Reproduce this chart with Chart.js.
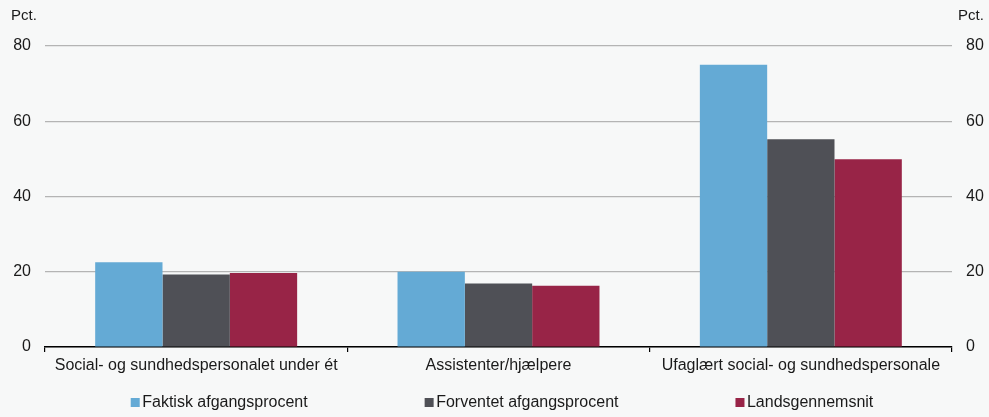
<!DOCTYPE html>
<html>
<head>
<meta charset="utf-8">
<script src="https://cdn.jsdelivr.net/npm/chart.js@4"></script>
<style>
  html, body { margin: 0; padding: 0; background: #f7f8f8; }
  #wrap { width: 989px; height: 417px; position: relative; }
</style>
</head>
<body>
<div id="wrap"><canvas id="chart"></canvas></div>
<script>
// data
const categories = ['Social- og sundhedspersonalet under ét', 'Assistenter/hjælpere', 'Ufaglært social- og sundhedspersonale'];
const faktisk = [22.5, 20.0, 75.0];
const forventet = [19.3, 16.9, 55.2];
const landsgns = [19.7, 16.3, 49.9];
const seriesNames = ['Faktisk afgangsprocent', 'Forventet afgangsprocent', 'Landsgennemsnit'];
const seriesColors = ['#64aad5', '#4f5056', '#982447'];
const yTicks = [0, 20, 40, 60, 80];
const unitLabel = 'Pct.';

const FONT = 'Arial, "Liberation Sans", sans-serif';
const TXT = '#1a1a1a';

// "Pct." over both axes + a hand placed legend (chart.js legend padding is shared with height)
const extras = {
  id: 'extras',
  afterDraw(chart) {
    const c = chart.ctx;
    c.save();
    c.font = '15px ' + FONT;
    c.fillStyle = TXT;
    c.textBaseline = 'middle';
    c.textAlign = 'left';
    c.fillText(unitLabel, 11, 16);
    c.fillText(unitLabel, 958, 16);

    // legend
    c.font = '16px ' + FONT;
    const y = 402.5;
    const gap = 117;
    const box = 9;
    const widths = seriesNames.map(n => box + 2.5 + c.measureText(n).width);
    const total = widths.reduce((a, b) => a + b, 0) + gap * (widths.length - 1);
    let x = 502 - total / 2;
    chart.data.datasets.forEach((ds, i) => {
      c.fillStyle = ds.backgroundColor;
      c.fillRect(x, y - box / 2, box, box);
      c.fillStyle = TXT;
      c.fillText(ds.label, x + box + 2.5, y);
      x += widths[i] + gap;
    });
    c.restore();
  }
};

const yCommon = {
  min: 0, max: 80,
  afterBuildTicks: ax => { ax.ticks = yTicks.map(v => ({ value: v })); },
  ticks: { color: TXT, font: { family: FONT, size: 16 }, padding: 14 },
  border: { display: false }
};

new Chart(document.getElementById('chart'), {
  type: 'bar',
  data: {
    labels: categories,
    datasets: [
      { label: seriesNames[0], data: faktisk, backgroundColor: seriesColors[0] },
      { label: seriesNames[1], data: forventet, backgroundColor: seriesColors[1] },
      { label: seriesNames[2], data: landsgns, backgroundColor: seriesColors[2] }
    ]
  },
  options: {
    responsive: true,
    maintainAspectRatio: false,
    animation: false,
    categoryPercentage: 0.668,
    barPercentage: 1,
    layout: { padding: { top: 46, bottom: 40, left: 0, right: 0 } },
    plugins: { legend: { display: false }, tooltip: { enabled: false } },
    scales: {
      x: {
        afterFit: ax => { ax.height = 30; },
        grid: { offset: true, drawOnChartArea: false, drawTicks: true, tickLength: 5, color: '#000', lineWidth: 1.2 },
        border: { display: true, color: '#000', width: 1.5 },
        ticks: { color: TXT, font: { family: FONT, size: 16 }, padding: 4, maxRotation: 0, autoSkip: false }
      },
      y: Object.assign({}, yCommon, {
        position: 'left',
        afterFit: ax => { ax.width = 45; },
        grid: { color: '#b4b4b4', lineWidth: 1.2, drawTicks: false }
      }),
      y2: Object.assign({}, yCommon, {
        position: 'right',
        afterFit: ax => { ax.width = 37; },
        grid: { display: false, drawTicks: false }
      })
    }
  },
  plugins: [extras]
});
</script>
</body>
</html>
